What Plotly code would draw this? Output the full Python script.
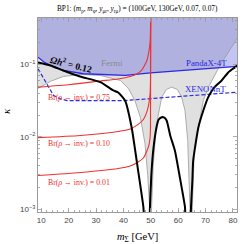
import plotly.graph_objects as go

# ---------------- data (m_Sigma in GeV, kappa) ----------------
fermi_m = [8.8, 13.3, 18.0, 24.2, 31.6, 38.9, 41.8, 44.2, 46.2, 47.9, 48.9, 49.5, 49.8, 50.1, 50.3, 50.9, 52.0, 54.0, 55.7, 57.6,
           59.7, 61.2, 62.5, 63.5, 64.3, 64.6, 65.0, 65.2, 65.9, 67.4, 69.2, 71.0, 72.8, 74.7, 76.9, 79.1, 81.6]
fermi_k = [0.0467, 0.0583, 0.0682, 0.0728, 0.0705, 0.0601, 0.0467, 0.0318, 0.0187, 0.00805, 0.00294, 0.00108, 0.0005, 0.0005,
           0.00108, 0.00405, 0.0144, 0.0354, 0.0452, 0.0486, 0.0452, 0.0362, 0.0232, 0.00895, 0.00108, 0.0005, 0.0005, 0.00108,
           0.0065, 0.0136, 0.0318, 0.0482, 0.0662, 0.0881, 0.121, 0.166, 0.229]

pandax_m = [8.8, 11.0, 13.3, 18.1, 25.3, 40.7, 49.9, 60.9, 71.9, 81.6]
pandax_k = [0.126, 0.108, 0.097, 0.0826, 0.0744, 0.0705, 0.0763, 0.0826, 0.0895, 0.094]

xenon_m = [8.8, 11.5, 14.5, 17.0, 19.4, 40.7, 81.6]
xenon_k = [0.0873, 0.057, 0.0373, 0.0335, 0.0318, 0.0318, 0.0415]

relic1_m = [8.8, 13.3, 18.0, 24.2, 31.6, 36.3, 38.1, 40.6, 43.0, 45.1, 47.3, 47.5]
relic1_k = [0.1066, 0.0968, 0.0826, 0.0682, 0.0570, 0.0438, 0.0411, 0.0318, 0.0136, 0.00405, 0.00108, 0.0008]
relic2_m = [49.6, 49.7, 50.2, 50.9, 52.1, 52.9, 54.0, 54.8, 55.8, 57.1, 58.8, 60.7, 62.5, 62.6]
relic2_k = [0.0008, 0.00108, 0.00294, 0.00652, 0.0136, 0.0174, 0.0187, 0.0186, 0.0169, 0.0105, 0.00652, 0.00268, 0.00108, 0.0008]
relic3_m = [64.6, 64.7, 65.2, 65.5, 67.4, 69.2, 71.0, 73.2, 75.9, 78.3, 80.8, 82.0]
relic3_k = [0.0008, 0.00108, 0.00251, 0.00474, 0.0136, 0.0232, 0.0354, 0.0482, 0.0601, 0.0776, 0.0918, 0.1016]

br075_m = [8.8, 20.6, 31.6, 38.1, 42.5, 44.9, 46.6, 48.6, 49.25, 49.75, 49.9, 50.0]
br075_k = [0.0486, 0.0530, 0.0592, 0.0631, 0.0682, 0.0740, 0.0826, 0.1135, 0.1466, 0.201, 0.294, 1.0]
br010_m = [8.8, 24.2, 38.1, 42.5, 45.4, 47.3, 48.5, 49.25, 49.75, 49.9, 50.0]
br010_k = [0.0098, 0.0105, 0.0119, 0.0129, 0.0149, 0.0174, 0.0218, 0.0281, 0.0398, 0.0601, 1.0]
br001_m = [8.8, 24.2, 38.1, 42.5, 45.4, 47.3, 48.5, 49.3, 49.75, 49.9, 50.0]
br001_k = [0.00294, 0.00324, 0.00368, 0.00398, 0.00452, 0.00513, 0.00631, 0.00764, 0.00984, 0.0144, 1.0]

x_range = [8.8, 81.5]
y_range_log = [-3.034, -0.36]
x_ticks = [10, 20, 30, 40, 50, 60, 70, 80]
y_ticks = [0.001, 0.01, 0.1]
y_ticktext = ["10<sup>−3</sup>", "10<sup>−2</sup>", "10<sup>−1</sup>"]
y_minor = [m * 10 ** e for e in (-4, -3, -2, -1) for m in range(2, 10)]

SERIF = "Liberation Serif"
SANS = "Liberation Sans"
RED = "#ee3030"
BLUE = "#2a2ae0"

fig = go.Figure()

# Fermi excluded region (above grey curve)
fig.add_trace(go.Scatter(x=fermi_m + [x_range[1] + 1, x_range[0] - 1], y=fermi_k + [10, 10],
                         fill="toself", fillcolor="#e0e0e0", line=dict(width=0), mode="lines",
                         hoverinfo="skip", showlegend=False))
# PandaX excluded region
fig.add_trace(go.Scatter(x=pandax_m + [x_range[1] + 1, x_range[0] - 1], y=pandax_k + [10, 10],
                         fill="toself", fillcolor="rgba(95,95,225,0.36)", line=dict(width=0), mode="lines",
                         hoverinfo="skip", showlegend=False))
# Fermi line
fig.add_trace(go.Scatter(x=fermi_m, y=fermi_k, mode="lines", line=dict(color="#9a9a9a", width=0.8),
                         showlegend=False))
# XENONnT
fig.add_trace(go.Scatter(x=xenon_m, y=xenon_k, mode="lines", line=dict(color=BLUE, width=1.2, dash="4px,2px"),
                         showlegend=False))
# PandaX-4T
fig.add_trace(go.Scatter(x=pandax_m, y=pandax_k, mode="lines", line=dict(color=BLUE, width=1.3),
                         showlegend=False))
# Br curves
for bm, bk in ((br075_m, br075_k), (br010_m, br010_k), (br001_m, br001_k)):
    fig.add_trace(go.Scatter(x=bm, y=bk, mode="lines", line=dict(color=RED, width=1.1, shape="spline", smoothing=0.6),
                             showlegend=False))
# relic density
for rm, rk in ((relic1_m, relic1_k), (relic2_m, relic2_k), (relic3_m, relic3_k)):
    fig.add_trace(go.Scatter(x=rm, y=rk, mode="lines", line=dict(color="black", width=2, shape="spline", smoothing=0.5),
                             showlegend=False))

ann = [
    dict(x=21.0, y=-0.99, text="<b><i>Ωh</i><sup>2</sup> = 0.12</b>", textangle=14,
         font=dict(family=SERIF, size=9.5, color="black")),
    dict(x=36.0, y=-0.98, text="Fermi", font=dict(family=SERIF, size=9, color="#8a8a8a")),
    dict(x=70.2, y=-0.985, text="PandaX-4T", font=dict(family=SERIF, size=8.8, color=BLUE)),
    dict(x=69.9, y=-1.345, text="XENONnT", font=dict(family=SERIF, size=8.8, color=BLUE)),
    dict(x=23.9, y=-1.451, text="Br(<i>ρ</i> → inv.) = 0.75", font=dict(family=SERIF, size=7.8, color=RED)),
    dict(x=23.9, y=-2.094, text="Br(<i>ρ</i> → inv.) = 0.10", font=dict(family=SERIF, size=7.8, color=RED)),
    dict(x=23.9, y=-2.623, text="Br(<i>ρ</i> → inv.) = 0.01", font=dict(family=SERIF, size=7.8, color=RED)),
]
for a in ann:
    fig.add_annotation(xref="x", yref="y", showarrow=False, **a)

fig.add_annotation(xref="paper", yref="paper", x=0.5, y=1, yanchor="bottom", yshift=2, showarrow=False,
                   text="BP1: (<i>m</i><sub>ρ</sub>, <i>m</i><sub>φ</sub>, <i>y</i><sub>μr</sub>, <i>y</i><sub>rμ</sub>) = (100GeV, 130GeV, 0.07, 0.07)",
                   font=dict(family=SERIF, size=7.3, color="black"))
fig.add_annotation(xref="paper", yref="paper", x=0.5, y=0, yanchor="top", yshift=-17, showarrow=False,
                   text="<i>m</i><sub>Σ</sub> [GeV]", font=dict(family=SERIF, size=10.5, color="black"))
fig.add_annotation(xref="paper", yref="paper", x=0, y=0.52, xanchor="right", xshift=-24, showarrow=False,
                   text="<i>κ</i>", textangle=-90, font=dict(family=SERIF, size=11, color="black"))

axis_common = dict(showline=True, linecolor="#9a9a9a", linewidth=1, mirror="ticks", ticks="inside",
                   tickcolor="#9a9a9a", showgrid=False, zeroline=False,
                   tickfont=dict(family=SANS, size=8, color="#444"))
fig.update_xaxes(range=x_range, tickvals=x_ticks, ticklen=4, tickwidth=0.8,
                 minor=dict(dtick=2, tick0=0, ticks="inside", ticklen=2, tickcolor="#9a9a9a", tickwidth=0.8),
                 **axis_common)
fig.update_yaxes(type="log", range=y_range_log, tickvals=y_ticks, ticktext=y_ticktext, ticklen=4, tickwidth=0.8,
                 minor=dict(tickmode="array", tickvals=y_minor, ticks="inside", ticklen=2, tickcolor="#9a9a9a",
                            tickwidth=0.8),
                 **axis_common)

fig.update_layout(width=245, height=244, margin=dict(l=38, r=8, t=18, b=32),
                  plot_bgcolor="white", paper_bgcolor="white", showlegend=False)

fig.write_html("out.html", config={"displayModeBar": False, "staticPlot": True},
               post_script="document.body.style.margin='0px';document.body.style.overflow='hidden';")
